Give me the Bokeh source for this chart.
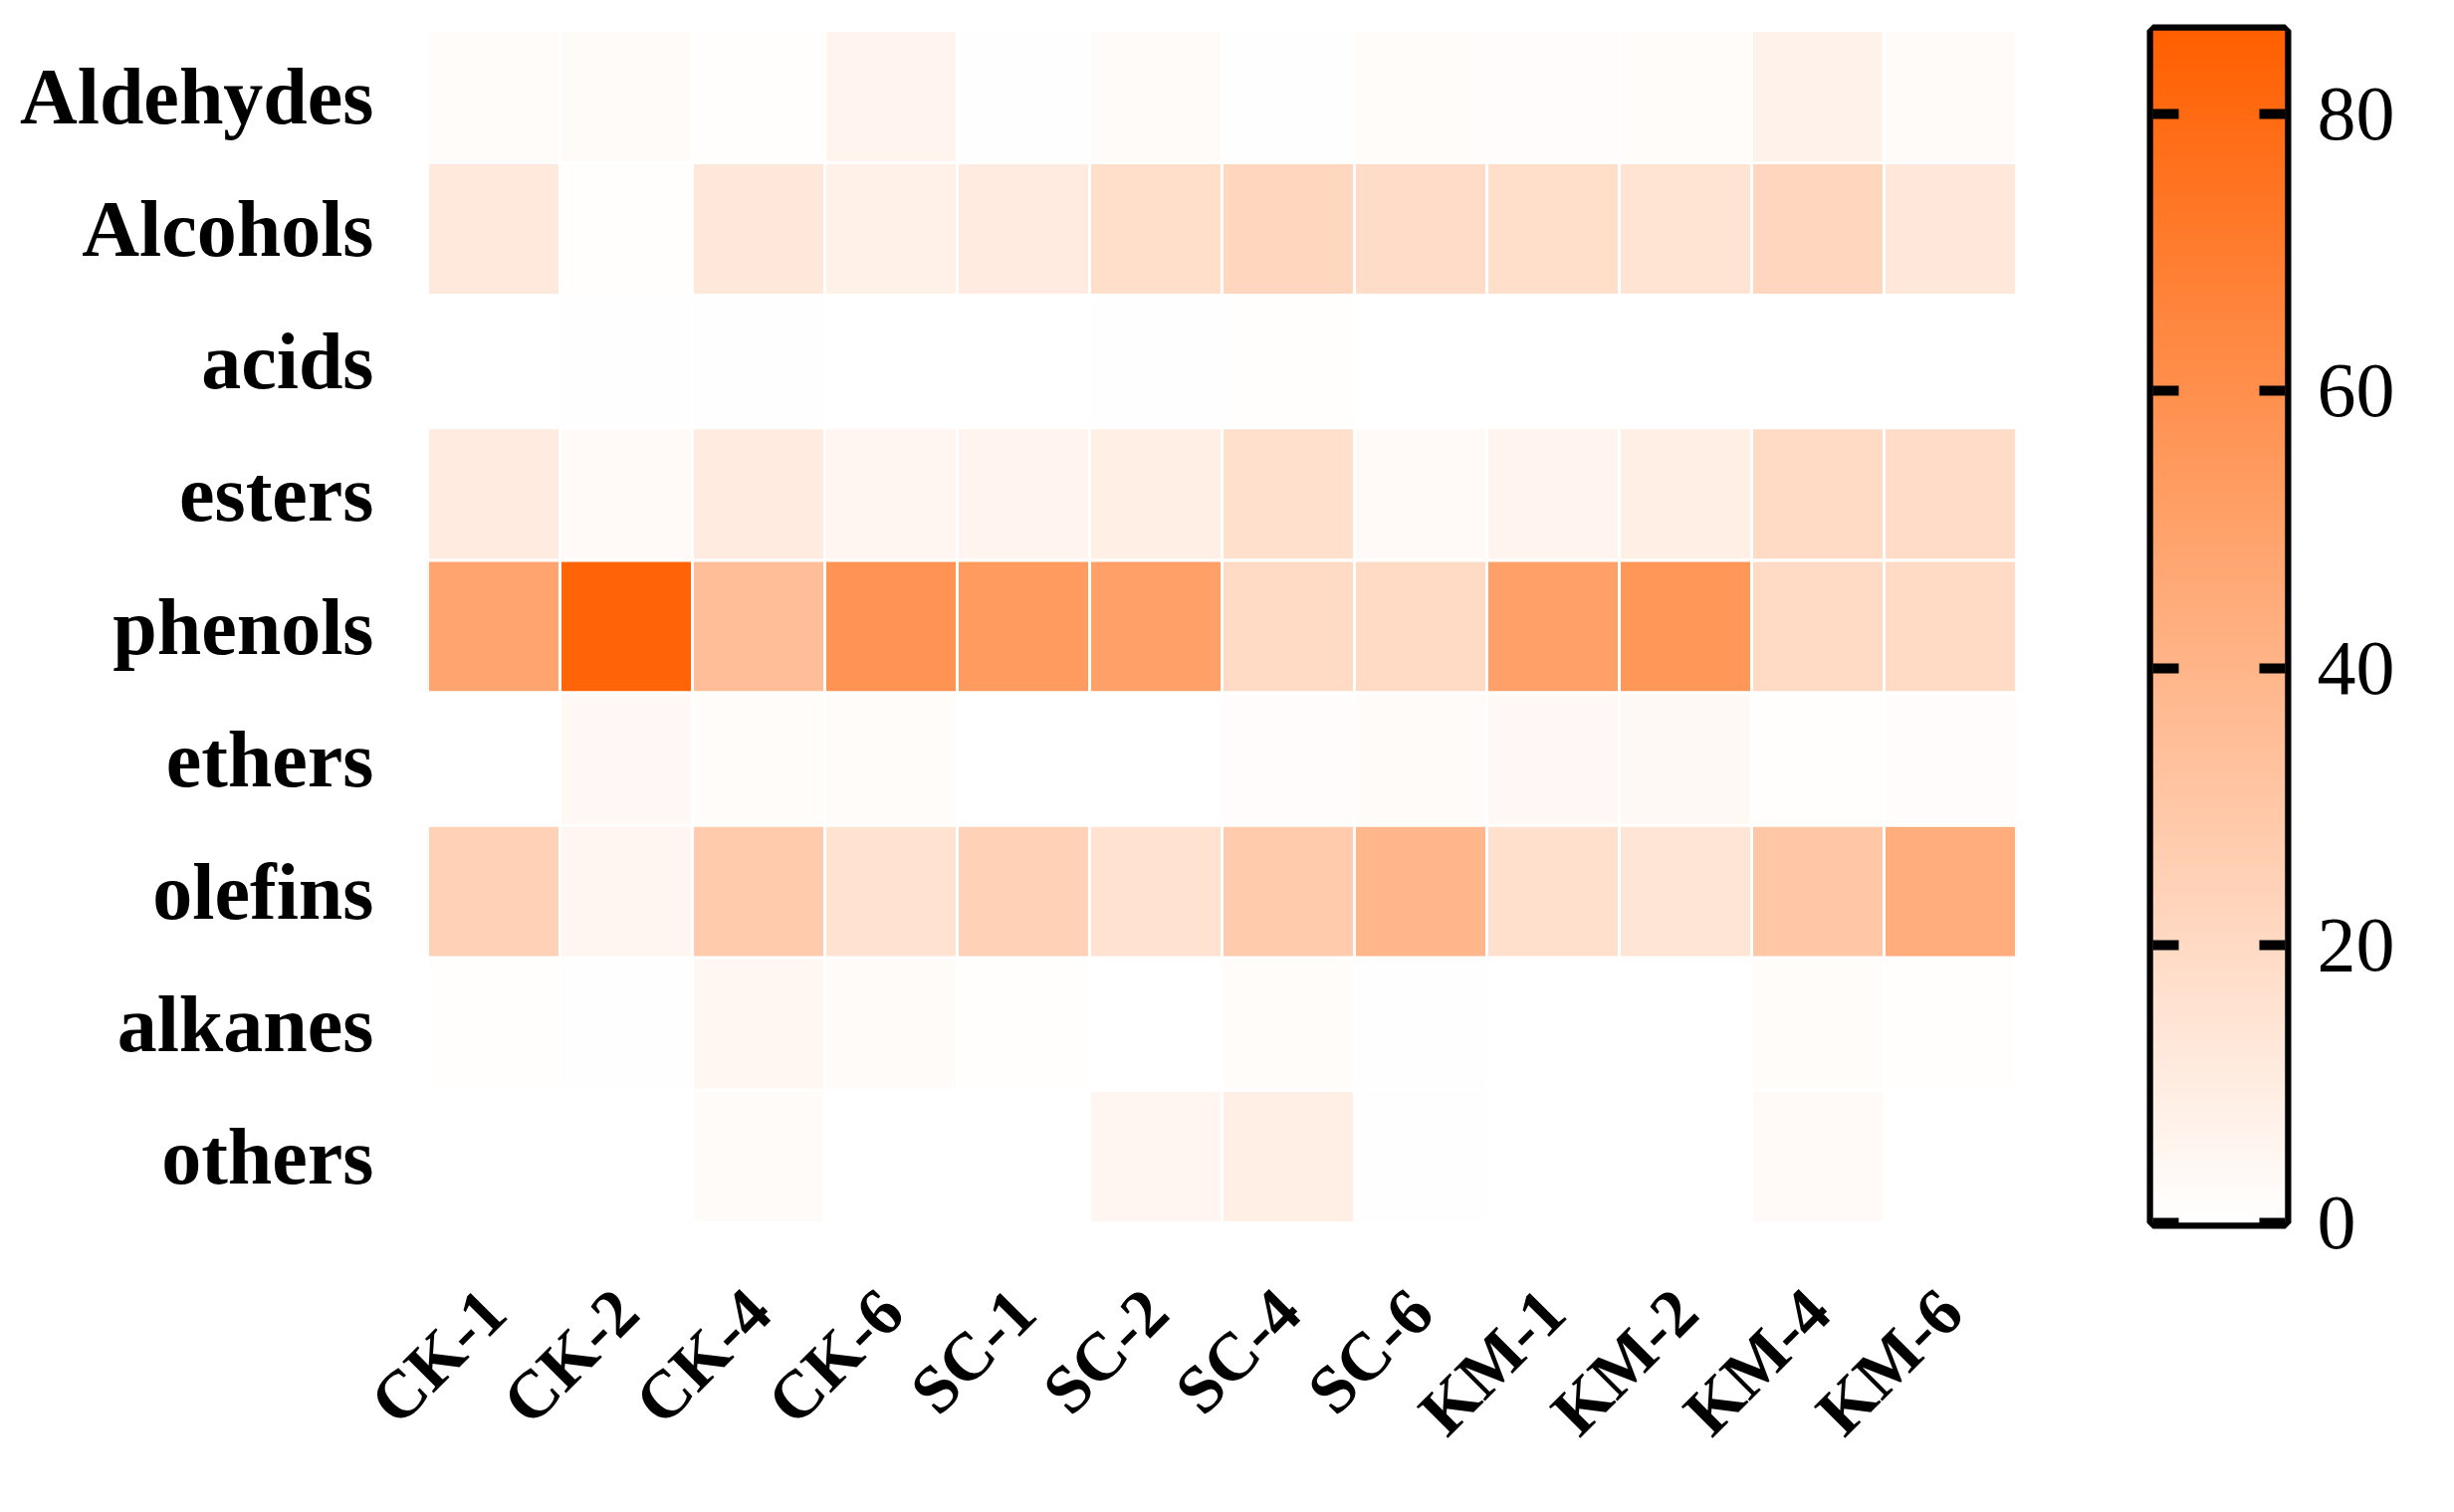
import math
import numpy as np
from bokeh.plotting import figure
from bokeh.models import (LinearColorMapper, Range1d, LinearAxis, FixedTicker,
                          ColumnDataSource)
from bokeh.layouts import row
from bokeh.transform import transform
from bokeh.embed import file_html
from bokeh.resources import INLINE

# ---------------- data ----------------
samples = ["CK-1", "CK-2", "CK-4", "CK-6", "SC-1", "SC-2", "SC-4", "SC-6",
           "KM-1", "KM-2", "KM-4", "KM-6"]
compounds = ["Aldehydes", "Alcohols", "acids", "esters", "phenols",
             "ethers", "olefins", "alkanes", "others"]

aldehydes = [2, 2.5, 1, 6, 0.5, 2.5, 0.5, 2, 1.5, 2, 7, 2.5]
alcohols = [12, 1, 13, 8, 11, 18, 22, 19, 18, 15, 22, 13]
acids = [0.2, 0.5, 0.4, 0.1, 0.1, 0.4, 1, 0.2, 0.3, 0.3, 0.1, 0.2]
esters = [11, 3, 11, 5, 6, 9, 17, 3, 6, 9, 20, 19]
phenols = [49, 83, 35, 58, 54, 51, 20, 20, 51, 56, 20, 20]
ethers = [0, 4, 2, 2, 0.1, 0.3, 1.5, 2.5, 4, 3.5, 1, 1.5]
olefins = [24, 5, 28, 16, 24, 16, 28, 39, 17, 14, 30, 44]
alkanes = [1, 0.5, 4.5, 2.5, 1, 0, 2, 0.5, 0, 0, 2, 0.7]
others = [0, 0, 2.5, 0.3, 0, 5, 9, 0.5, 0, 0.3, 3, 0.3]

cbar_ticks = [0, 20, 40, 60, 80]
cbar_low, cbar_high = 0, 86

rows_data = [aldehydes, alcohols, acids, esters, phenols, ethers, olefins,
             alkanes, others]

xs, ys, vals = [], [], []
for comp, r in zip(compounds, rows_data):
    for s, v in zip(samples, r):
        xs.append(s)
        ys.append(comp)
        vals.append(v)
src = ColumnDataSource(dict(sample=xs, compound=ys, value=vals))

# ---------------- palette (white -> orange) ----------------
lo = (255, 255, 255)
hi = (255, 95, 0)
palette = []
for i in range(256):
    t = i / 255
    c = tuple(int(round(lo[k] + (hi[k] - lo[k]) * t)) for k in range(3))
    palette.append("#%02x%02x%02x" % c)
mapper = LinearColorMapper(palette=palette, low=cbar_low, high=cbar_high)

FONT = "Liberation Serif"

# ---------------- heatmap ----------------
p = figure(x_range=samples, y_range=list(reversed(compounds)),
           width=2046, height=1500,
           min_border_left=429, min_border_right=21,
           min_border_top=30, min_border_bottom=271,
           output_backend="svg", toolbar_location=None)
p.rect(x="sample", y="compound", width=1, height=1, source=src,
       fill_color=transform("value", mapper),
       line_color="white", line_width=3)
p.outline_line_color = None
p.grid.visible = False
for ax in (p.xaxis[0], p.yaxis[0]):
    ax.axis_line_color = None
    ax.major_tick_line_color = None
    ax.minor_tick_line_color = None
    ax.major_label_text_font = FONT
    ax.major_label_text_font_style = "bold"
    ax.major_label_text_color = "black"
p.yaxis.major_label_text_font_size = "80px"
p.yaxis.major_label_standoff = 48
p.xaxis.major_label_text_font_size = "68px"
p.xaxis.major_label_orientation = math.pi / 4
p.xaxis.major_label_standoff = 72

# ---------------- colour bar ----------------
cb = figure(x_range=Range1d(0, 1), y_range=Range1d(cbar_low, cbar_high),
            width=390, height=1500,
            min_border_left=116, min_border_right=141,
            min_border_top=25, min_border_bottom=272,
            y_axis_location="right",
            output_backend="svg", toolbar_location=None)
ramp = np.linspace(cbar_low, cbar_high, 512).reshape(-1, 1)
cb.image(image=[ramp], x=0, y=cbar_low, dw=1, dh=cbar_high - cbar_low,
         color_mapper=mapper)
cb.xaxis.visible = False
cb.grid.visible = False
cb.outline_line_color = "black"
cb.outline_line_width = 12
cb.outline_line_alpha = 1.0

right_ax = cb.right[0]
left_ax = LinearAxis()
cb.add_layout(left_ax, "left")
for ax in (right_ax, left_ax):
    ax.ticker = FixedTicker(ticks=cbar_ticks)
    ax.axis_line_color = None
    ax.major_tick_in = 26
    ax.major_tick_out = 0
    ax.major_tick_line_width = 10
    ax.major_tick_line_color = "black"
    ax.minor_tick_line_color = None
    ax.major_label_text_font = FONT
    ax.major_label_text_font_size = "78px"
    ax.major_label_text_color = "black"
    ax.major_label_standoff = 32
left_ax.major_label_overrides = {t: "" for t in cbar_ticks}
left_ax.major_label_standoff = 0

layout = row(p, cb)

with open("out.html", "w") as f:
    f.write(file_html(layout, INLINE))
